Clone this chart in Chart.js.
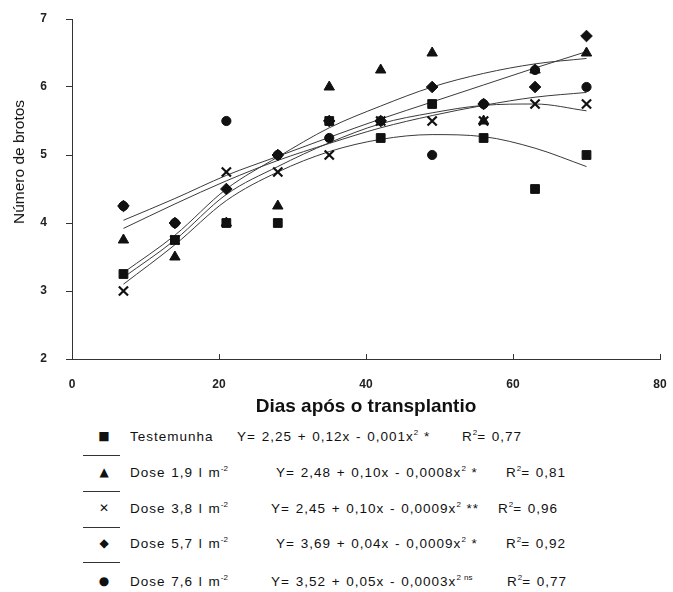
<!DOCTYPE html>
<html>
<head>
<meta charset="utf-8">
<script src="https://cdn.jsdelivr.net/npm/chart.js@4.4.1/dist/chart.umd.min.js"></script>
<style>
    body { margin: 0; background: #fff; font-family: "Liberation Sans", Arial, sans-serif; color: #111; }
    #wrap { position: relative; width: 673px; height: 592px; overflow: hidden; }
    #chartBox { position: absolute; left: 0; top: 0; width: 673px; height: 425px; }
    #ytitle {
        position: absolute; left: 19px; top: 162px; font-size: 15.5px;
        transform: translate(-50%, -50%) rotate(-90deg); white-space: nowrap;
    }
    .leg { position: absolute; font-size: 13.5px; letter-spacing: 1px; word-spacing: 1px; white-space: nowrap; transform: translateY(-50%); }
    .leg sup { font-size: 8px; letter-spacing: 0; vertical-align: 6px; line-height: 0; }
    .mk { position: absolute; font-family: "DejaVu Sans", sans-serif; font-size: 12px; transform: translate(-50%, -50%); }
    .sep { position: absolute; left: 83px; width: 37px; height: 0; border-top: 1.5px solid #333; }
</style>
</head>
<body>
<div id="wrap">
    <div id="chartBox"><canvas id="chart"></canvas></div>
    <div id="ytitle">Número de brotos</div>
    <div id="legend"></div>
</div>
<script>
// Observed values (days after transplanting)
const days = [7, 14, 21, 28, 35, 42, 49, 56, 63, 70];
const testemunha = [3.25, 3.75, 4.0, 4.0, 5.5, 5.25, 5.75, 5.25, 4.5, 5.0];
const dose19 = [3.75, 3.5, 4.0, 4.25, 6.0, 6.25, 6.5, 5.5, 6.25, 6.5];
const dose38 = [3.0, 3.75, 4.75, 4.75, 5.0, 5.5, 5.5, 5.5, 5.75, 5.75];
const dose57 = [4.25, 4.0, 4.5, 5.0, 5.5, 5.5, 6.0, 5.75, 6.0, 6.75];
const dose76 = [4.25, 4.0, 5.5, 5.0, 5.25, 5.5, 5.0, 5.75, 6.25, 6.0];

// Fitted curves at the same days
const fitTestemunha = [3.1, 3.68, 4.33, 4.75, 5.05, 5.23, 5.3, 5.27, 5.1, 4.83];
const fitDose19 = [4.04, 4.36, 4.7, 4.98, 5.26, 5.53, 5.78, 6.03, 6.28, 6.52];
const fitDose38 = [3.2, 3.75, 4.42, 4.83, 5.18, 5.46, 5.62, 5.73, 5.75, 5.65];
const fitDose57 = [3.27, 3.82, 4.5, 4.97, 5.4, 5.72, 6.0, 6.2, 6.34, 6.42];
const fitDose76 = [3.92, 4.28, 4.62, 4.92, 5.17, 5.4, 5.58, 5.73, 5.85, 5.92];

const xTicks = [0, 20, 40, 60, 80];
const yTicks = [2, 3, 4, 5, 6, 7];

const seriesNames = ['Testemunha', 'Dose 1,9 l m-2', 'Dose 3,8 l m-2', 'Dose 5,7 l m-2', 'Dose 7,6 l m-2'];
const equations = [
    'Y= 2,25 + 0,12x - 0,001x<sup>2</sup> *',
    'Y= 2,48 + 0,10x - 0,0008x<sup>2</sup> *',
    'Y= 2,45 + 0,10x - 0,0009x<sup>2</sup> **',
    'Y= 3,69 + 0,04x - 0,0009x<sup>2</sup> *',
    'Y= 3,52 + 0,05x - 0,0003x<sup>2 ns</sup>'
];
const r2 = ['0,77', '0,81', '0,96', '0,92', '0,77'];

const toPoints = (vals) => vals.map((v, i) => ({ x: days[i], y: v }));

// circles sit underneath the other markers (higher order = drawn first)
const markers = [
    { style: 'rect', radius: 6.2, border: 1, order: 1 },
    { style: 'triangle', radius: 6, border: 1, order: 1 },
    { style: 'crossRot', radius: 6.5, border: 2.2, order: 1 },
    { style: 'rectRot', radius: 5.8, border: 1, order: 1 },
    { style: 'circle', radius: 4.6, border: 1, order: 1.5 }
];
const observed = [testemunha, dose19, dose38, dose57, dose76];
const fitted = [fitTestemunha, fitDose19, fitDose38, fitDose57, fitDose76];

const datasets = [];
fitted.forEach((vals, i) => {
    datasets.push({
        label: seriesNames[i] + ' (ajuste)',
        data: toPoints(vals),
        showLine: true,
        borderColor: '#3a3a3a',
        borderWidth: 1,
        pointRadius: 0,
        cubicInterpolationMode: 'monotone',
        order: 2
    });
});
observed.forEach((vals, i) => {
    datasets.push({
        label: seriesNames[i],
        data: toPoints(vals),
        showLine: false,
        pointStyle: markers[i].style,
        pointRadius: markers[i].radius,
        pointBorderWidth: markers[i].border,
        pointBackgroundColor: '#111',
        pointBorderColor: '#111',
        order: markers[i].order
    });
});

const chartBottom = 359;

new Chart(document.getElementById('chart'), {
    type: 'scatter',
    data: { datasets },
    options: {
        responsive: true,
        maintainAspectRatio: false,
        animation: false,
        layout: { padding: { top: 19, right: 13, left: 0, bottom: 0 } },
        plugins: { legend: { display: false }, tooltip: { enabled: false } },
        scales: {
            x: {
                type: 'linear', min: 0, max: 80,
                afterBuildTicks: (s) => { s.ticks = xTicks.map(v => ({ value: v })); },
                afterFit: (s) => {
                    s.height = 425 - chartBottom;
                    s.paddingLeft = 0;
                    s.paddingRight = 0;
                },
                ticks: { color: '#222', padding: 23, font: { family: 'Liberation Sans', size: 12, weight: 'bold' } },
                grid: { drawOnChartArea: false, drawTicks: true, tickLength: -5, color: '#333' },
                border: { display: true, color: '#333', width: 1 },
                title: {
                    display: true, text: 'Dias após o transplantio', color: '#111',
                    font: { family: 'Liberation Sans', size: 19, weight: 'bold' },
                    padding: { top: 0, bottom: 7 }
                }
            },
            y: {
                type: 'linear', min: 2, max: 7,
                afterBuildTicks: (s) => { s.ticks = yTicks.map(v => ({ value: v })); },
                afterFit: (s) => {
                    s.width = 72;
                    s.paddingTop = 0;
                    s.paddingBottom = 0;
                },
                ticks: { color: '#222', padding: 19, font: { family: 'Liberation Sans', size: 12, weight: 'bold' } },
                grid: { drawOnChartArea: false, drawTicks: true, tickLength: 6, color: '#333' },
                border: { display: true, color: '#333', width: 1 }
            }
        }
    }
});

// Legend below the chart
const legend = document.getElementById('legend');
const rowY = [436, 472, 508, 543, 581];
const sepY = [455, 491, 527, 562];
const eqX = [237, 276, 271, 276, 271];
const r2X = [462, 506, 498, 506, 507];
const glyphs = ['■', '▲', '✕', '◆', '●'];

rowY.forEach((y, i) => {
    const name = i === 0 ? seriesNames[0] : seriesNames[i].replace('m-2', 'm<sup>-2</sup>');
    legend.insertAdjacentHTML('beforeend',
        `<div class="mk" style="left:104px;top:${y}px">${glyphs[i]}</div>` +
        `<div class="leg" style="left:130px;top:${y}px">${name}</div>` +
        `<div class="leg" style="left:${eqX[i]}px;top:${y}px">${equations[i]}</div>` +
        `<div class="leg" style="left:${r2X[i]}px;top:${y}px">R<sup>2</sup>= ${r2[i]}</div>`);
});
sepY.forEach(y => {
    legend.insertAdjacentHTML('beforeend', `<div class="sep" style="top:${y}px"></div>`);
});
</script>
</body>
</html>
